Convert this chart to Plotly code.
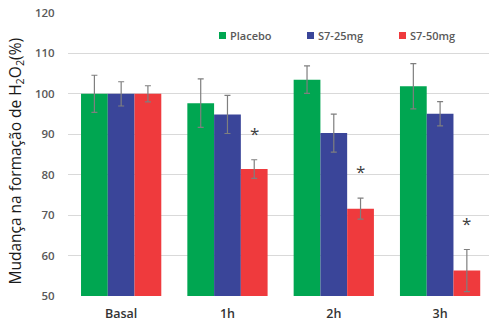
import plotly.graph_objects as go

# Time points and treatment groups
categories = ["Basal", "1h", "2h", "3h"]
groups = ["Placebo", "S7-25mg", "S7-50mg"]

# Mean change in H2O2 formation (%) per group
placebo = [100.0, 97.7, 103.5, 101.9]
s7_25 = [100.0, 94.9, 90.3, 95.1]
s7_50 = [100.0, 81.4, 71.6, 56.3]

# Error bar half-widths
placebo_err = [4.6, 6.0, 3.4, 5.6]
s7_25_err = [3.0, 4.7, 4.7, 3.0]
s7_50_err = [2.0, 2.3, 2.6, 5.2]

# Significance markers on the S7-50mg series
sig_marks = ["", "*", "*", "*"]

colors = ["#00A651", "#3A4599", "#EF3A3D"]
values = [placebo, s7_25, s7_50]
errors = [placebo_err, s7_25_err, s7_50_err]

# Plot-area geometry in pixels
W, H = 489, 325
ML, MR, MT, MB = 68, 0, 13, 29
PW, PH = W - ML - MR, H - MT - MB


def px_to_paper_x(px):
    return (px - ML) / PW


def px_to_paper_y(py):
    return (MT + PH - py) / PH


fig = go.Figure()
for name, vals, errs, col in zip(groups, values, errors, colors):
    fig.add_trace(go.Bar(
        x=categories, y=vals, name=name, marker_color=col,
        marker_line_width=0, showlegend=False,
        error_y=dict(type="data", array=errs, visible=True,
                     color="#7F7F7F", thickness=1.2, width=3),
    ))

bargap = 0.245
bar_w = (1 - bargap) / 3
for i, (mark, v, e) in enumerate(zip(sig_marks, s7_50, s7_50_err)):
    if mark:
        fig.add_annotation(
            x=i + bar_w, y=v + e + 3.2, xref="x", yref="y",
            text=mark, showarrow=False, yanchor="bottom",
            font=dict(size=17, color="#404040", family="Open Sans"),
        )

# Compact horizontal key: small square swatch followed by the group name
key_left_px = [219, 307, 399]
key_y_px = 35.5
for name, col, left in zip(groups, colors, key_left_px):
    fig.add_shape(type="rect", xref="paper", yref="paper",
                  x0=px_to_paper_x(left), x1=px_to_paper_x(left + 7),
                  y0=px_to_paper_y(key_y_px + 3.5),
                  y1=px_to_paper_y(key_y_px - 3.5),
                  fillcolor=col, line_width=0)
    fig.add_annotation(
        x=px_to_paper_x(left + 9), y=px_to_paper_y(key_y_px),
        xref="paper", yref="paper", xanchor="left", yanchor="middle",
        text=name, showarrow=False,
        font=dict(size=11, color="#595959", family="Open Sans", weight=600),
    )

# Vertical axis title
fig.add_annotation(
    x=px_to_paper_x(15), y=px_to_paper_y(161.5),
    xref="paper", yref="paper", xanchor="center", yanchor="middle",
    textangle=-90, showarrow=False,
    text="Mudança na formação de H<sub>2</sub>O<sub>2</sub>(%)",
    font=dict(size=15.5, color="#1A1A1A", family="Open Sans"),
)

fig.update_layout(
    width=W, height=H,
    margin=dict(l=ML, r=MR, t=MT, b=MB, autoexpand=False),
    paper_bgcolor="white", plot_bgcolor="white",
    barmode="group", bargap=bargap, bargroupgap=0,
    font=dict(family="Open Sans", color="#595959"),
    showlegend=False,
    xaxis=dict(
        type="category", range=[-0.5, 3.46], autorange=False,
        showgrid=False, showline=False, automargin=False,
        tickfont=dict(size=12.5, color="#333333", weight=600),
        ticks="outside", ticklen=6, tickcolor="rgba(0,0,0,0)",
    ),
    yaxis=dict(
        range=[50, 120], autorange=False, dtick=10, showgrid=True,
        gridcolor="#D9D9D9", gridwidth=1, zeroline=False, showline=False,
        automargin=False,
        tickfont=dict(size=11.5, color="#595959", weight=600),
        ticks="outside", ticklen=10, tickcolor="rgba(0,0,0,0)",
    ),
)

fig.write_html("out.html")
